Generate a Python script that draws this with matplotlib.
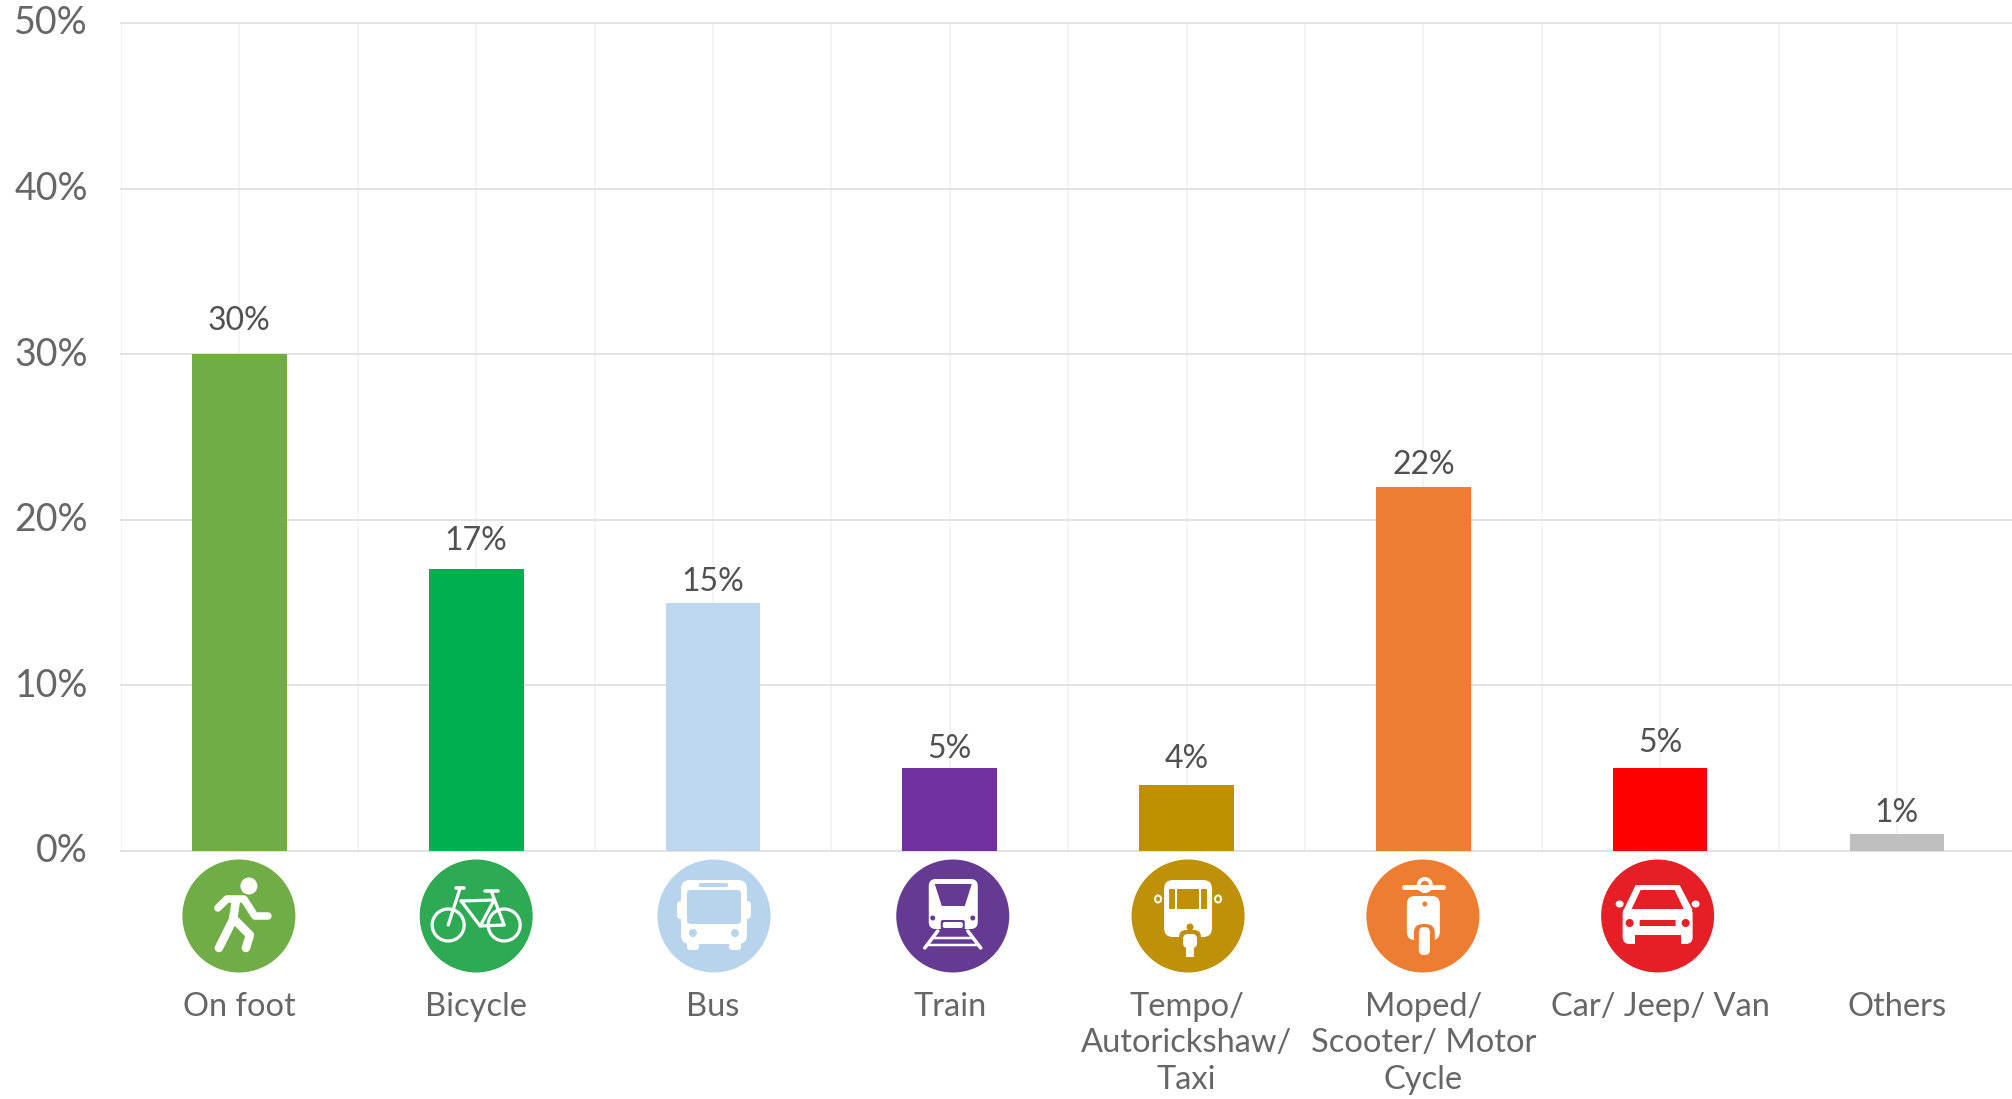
"""
Share of trips by mode of transport, bar chart with icons under each bar.
"""

import matplotlib
matplotlib.use("Agg")
import matplotlib.pyplot as plt
from matplotlib.lines import Line2D
from matplotlib.patches import Circle, Ellipse, FancyBboxPatch, Polygon, Rectangle
from matplotlib.transforms import ScaledTranslation

W, H = 2012, 1099
PX = 0.72  # one pixel in points at dpi 100

categories = ["On foot", "Bicycle", "Bus", "Train", "Tempo/\nAutorickshaw/\nTaxi",
              "Moped/\nScooter/ Motor\nCycle", "Car/ Jeep/ Van", "Others"]
values = [30, 17, 15, 5, 4, 22, 5, 1]
bar_colors = ["#70AD47", "#00B050", "#BDD7EE", "#7030A0", "#BF9000", "#ED7D31", "#FF0000", "#BFBFBF"]
icon_colors = ["#70AD47", "#2EAA55", "#B8D3EC", "#643A92", "#BF9109", "#ED7D31", "#E61E25"]
y_ticks = [0, 10, 20, 30, 40, 50]
label_gaps = [33, 28, 21, 19, 26, 22, 25, 21]  # label centre above bar top, px
icon_shifts = [-0.5, 0, 1, 3, 1.5, -0.5, -2.5]  # icons are not quite under the bars, px

plt.rcParams["font.family"] = ["Lato", "DejaVu Sans"]

fig = plt.figure(figsize=(W / 100, H / 100), dpi=100)
ax = fig.add_axes([121 / W, (H - 851) / H, (W - 121) / W, (851 - 23) / H])
ax.set_xlim(-0.5, 7.486)
ax.set_ylim(0, 50)

ax.bar(range(len(values)), values, width=0.4, color=bar_colors, zorder=3)

for i, v in enumerate(values):
    ax.annotate(f"{v}%", (i, v), xytext=(0, label_gaps[i] * PX), textcoords="offset points",
                ha="center", va="center", fontsize=23, color="#505050", zorder=4)

ax.set_yticks(y_ticks)
ax.set_yticklabels([f"{t}%" for t in y_ticks], fontsize=27, color="#666666")
ax.set_xticks(range(len(categories)))
ax.set_xticklabels(categories, fontsize=23.5, color="#666666", linespacing=1.27, va="top")
ax.set_xticks([i - 0.5 for i in range(len(categories))], minor=True)
ax.tick_params(axis="y", length=0, pad=33 * PX)
ax.tick_params(axis="x", which="both", length=0, pad=141 * PX)

# y labels sit a little higher than the gridlines
for lab in ax.get_yticklabels():
    lab.set_transform(lab.get_transform() + ScaledTranslation(0, 3 / 100, fig.dpi_scale_trans))

ax.grid(axis="y", color="#E2E2E2", linewidth=2 * PX, zorder=1, clip_on=False)
ax.grid(axis="x", which="both", color="#F1F1F1", linewidth=1.5 * PX, zorder=0)
for s in ax.spines.values():
    s.set_visible(False)
ax.set_axisbelow(True)

# overlay in pixel coordinates, only for the icons
ic = fig.add_axes([0, 0, 1, 1], facecolor="none")
ic.set_xlim(0, W)
ic.set_ylim(H, 0)
ic.axis("off")


def line(cx, cy, pts, lw, color="white"):
    xs = [cx + p[0] for p in pts]
    ys = [cy + p[1] for p in pts]
    ic.add_line(Line2D(xs, ys, color=color, linewidth=lw * PX, solid_capstyle="round",
                       solid_joinstyle="round"))


def dot(cx, cy, dx, dy, r, color="white"):
    ic.add_patch(Circle((cx + dx, cy + dy), r, facecolor=color, edgecolor="none"))


def box(cx, cy, x0, y0, x1, y1, color="white", rad=3):
    ic.add_patch(FancyBboxPatch((cx + x0 + rad, cy + y0 + rad), x1 - x0 - 2 * rad, y1 - y0 - 2 * rad,
                                boxstyle=f"round,pad={rad},rounding_size={rad}",
                                facecolor=color, edgecolor="none"))


def poly(cx, cy, pts, color="white"):
    ic.add_patch(Polygon([(cx + p[0], cy + p[1]) for p in pts], closed=True,
                         facecolor=color, edgecolor="none", joinstyle="round"))


def walker(cx, cy, c):
    dot(cx, cy, 10, -30, 8.5)
    line(cx, cy, [(-21, -8), (-12, -17), (5, -17), (16, 0), (29, 0)], 7.5)
    line(cx, cy, [(-3, -15), (-6, 4), (-20, 32)], 8.5)
    line(cx, cy, [(-5, 3), (11, 19), (7, 32)], 8.5)


def bicycle(cx, cy, c):
    for sx in (-28, 28):
        ic.add_patch(Circle((cx + sx, cy + 9), 16, facecolor="none", edgecolor="white", linewidth=3.2 * PX))
    line(cx, cy, [(-20, -28), (-12, -28)], 3.5)
    line(cx, cy, [(-16, -28), (-28, 9)], 3.2)
    line(cx, cy, [(-15, -15), (18, -16), (4, 10), (-15, -15)], 3.2)
    line(cx, cy, [(4, 10), (28, 9), (15, -25)], 3.2)
    line(cx, cy, [(9, -25), (22, -25)], 3.5)


def bus(cx, cy, c):
    box(cx, cy, -33, -36, 33, 28, rad=9)
    box(cx, cy, -37, -15, 37, 3, rad=4)
    box(cx, cy, -27, 24, -15, 34, rad=3)
    box(cx, cy, 15, 24, 27, 34, rad=3)
    box(cx, cy, -27, -26, 27, 8, color=c, rad=4)
    box(cx, cy, -15, -33, 14, -29, color=c, rad=1.5)
    dot(cx, cy, -21, 17, 4, c)
    dot(cx, cy, 21, 17, 4, c)


def train(cx, cy, c):
    box(cx, cy, -24, -37, 25, 13, rad=7)
    poly(cx, cy, [(-18, -32), (19, -32), (12, -10), (-11, -10)], c)
    dot(cx, cy, -20, 2, 2.5, c)
    dot(cx, cy, 20, 2, 2.5, c)
    box(cx, cy, -12, 4, 12, 14, color=c, rad=2)
    box(cx, cy, -10, 6, 10, 12, rad=2)
    line(cx, cy, [(-15, 15), (-28, 32)], 3.5)
    line(cx, cy, [(15, 15), (28, 32)], 3.5)
    line(cx, cy, [(-20, 22), (20, 22)], 2.5)
    line(cx, cy, [(-25, 29), (25, 29)], 2.5)


def tempo(cx, cy, c):
    box(cx, cy, -24, -36, 24, 21, rad=9)
    box(cx, cy, -19, -27, 19, -7, color=c, rad=1)
    line(cx, cy, [(-12, -27), (-12, -7)], 2, "white")
    line(cx, cy, [(12, -27), (12, -7)], 2, "white")
    for sx in (-30, 30):
        ic.add_patch(Ellipse((cx + sx, cy - 17), 6, 7, facecolor="none", edgecolor="white", linewidth=2 * PX))
    dot(cx, cy, 2, 11, 3.5, c)
    box(cx, cy, -9, 14, 13, 30, color=c, rad=7)
    box(cx, cy, -5, 18, 9, 32, rad=5)
    ic.add_patch(Rectangle((cx - 2, cy + 32), 8, 9, facecolor="white", edgecolor="none"))


def moped(cx, cy, c):
    line(cx, cy, [(-19, -29), (20, -29)], 5)
    dot(cx, cy, 2, -31, 8)
    dot(cx, cy, 2, -31, 4.2, c)
    box(cx, cy, -16, -20, 17, 24, rad=8)
    dot(cx, cy, 2, -12, 2.5, c)
    box(cx, cy, -9, 8, 12, 30, color=c, rad=9)
    box(cx, cy, -4, 11, 7, 39, rad=5)


def car(cx, cy, c):
    poly(cx, cy, [(-22, -31), (22, -31), (35, -6), (-34, -6)])
    box(cx, cy, -35, -9, 35, 28, rad=7)
    ic.add_patch(Ellipse((cx - 38, cy - 12), 8, 7, facecolor="white", edgecolor="none"))
    ic.add_patch(Ellipse((cx + 38, cy - 12), 8, 7, facecolor="white", edgecolor="none"))
    poly(cx, cy, [(-17, -26), (17, -26), (26, -7), (-26, -7)], c)
    dot(cx, cy, -28, 7, 4, c)
    dot(cx, cy, 28, 7, 4, c)
    box(cx, cy, -18, 4, 18, 10, color=c, rad=0.5)
    ic.add_patch(Rectangle((cx - 23, cy + 19), 46, 10, facecolor=c, edgecolor="none"))


icons = [walker, bicycle, bus, train, tempo, moped, car]
for i, draw in enumerate(icons):
    # x position follows the category axis, converted to pixels
    cx = ax.transData.transform((i, 0))[0] + icon_shifts[i]
    ic.add_patch(Circle((cx, 916), 56.5, facecolor=icon_colors[i], edgecolor="none"))
    draw(cx, 916, icon_colors[i])

fig.savefig("out.png", dpi=100, facecolor="white")
